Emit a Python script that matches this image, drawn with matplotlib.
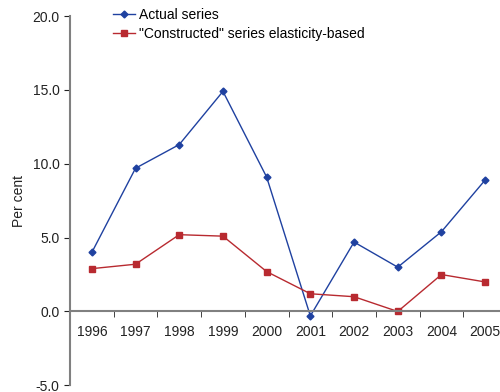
import matplotlib
matplotlib.use("Agg")
import matplotlib.pyplot as plt
import numpy as np

years = ['1996', '1997', '1998', '1999', '2000', '2001', '2002', '2003', '2004', '2005']
actual = [4.0, 9.7, 11.3, 14.9, 9.1, -0.3, 4.7, 3.0, 5.4, 8.9]
constructed = [2.9, 3.2, 5.2, 5.1, 2.7, 1.2, 1.0, 0.0, 2.5, 2.0]

plt.rcParams['font.family'] = ['Liberation Sans', 'DejaVu Sans']

fig = plt.figure(figsize=(5, 3.92), dpi=100)
ax = fig.add_axes([0.14, 0.017, 0.874, 0.942])

x = np.arange(len(years))
ax.plot(x, actual, color='#1f41a0', marker='D', markersize=3.5, linewidth=1.0,
        label='Actual series')
ax.plot(x, constructed, color='#b82a30', marker='s', markersize=5, linewidth=1.0,
        label='"Constructed" series elasticity-based')

ax.set_xlim(-0.5, len(years) - 0.5)
ax.set_ylim(-5, 20)
ax.set_yticks([-5, 0, 5, 10, 15, 20])
ax.set_yticklabels(['-5.0', '0.0', '5.0', '10.0', '15.0', '20.0'])
ax.set_ylabel('Per cent', fontsize=10, color='#222222', labelpad=5)

# category axis crosses at zero
ax.spines['bottom'].set_position(('data', 0))
for s in ['top', 'right']:
    ax.spines[s].set_visible(False)
for s in ['left', 'bottom']:
    ax.spines[s].set_color('#808080')
    ax.spines[s].set_linewidth(1.5)

ax.set_xticks(x)
ax.set_xticklabels(years)
ax.set_xticks(np.arange(-0.5, len(years) + 0.5, 1), minor=True)
ax.tick_params(axis='x', which='major', length=0, pad=10, labelsize=10, labelcolor='#222222')
ax.tick_params(axis='x', which='minor', length=4, direction='out', color='#222222')
ax.tick_params(axis='y', length=4, direction='out', color='#222222', labelsize=10,
               labelcolor='#222222')

ax.legend(loc='upper left', bbox_to_anchor=(0.215, 0.993), bbox_transform=fig.transFigure,
          frameon=False, fontsize=10, handlelength=1.6, handletextpad=0.3,
          labelspacing=0.35, borderaxespad=0)

fig.savefig('out.png', dpi=100)
